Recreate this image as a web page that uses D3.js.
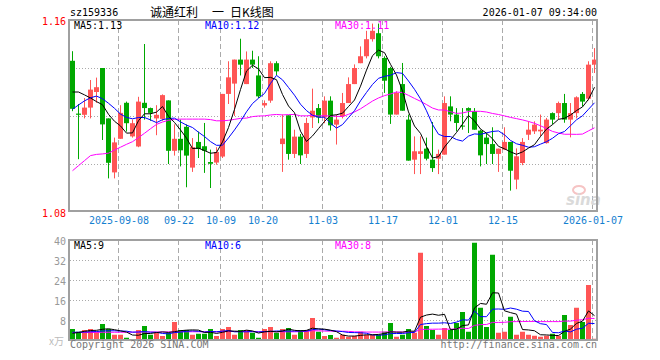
<!DOCTYPE html>
<html>
<head>
<meta charset="utf-8">
<script src="https://cdn.jsdelivr.net/npm/d3@7"></script>
<style>
  body { margin: 0; background: #fff; }
  svg { display: block; }
  text { font-family: "DejaVu Sans Mono", monospace; font-size: 10px; }
</style>
</head>
<body>
<svg id="chart" width="660" height="360"></svg>
<script>
// daily bars, 2025-08-27 .. 2026-01-07 (88 trading days)
const opens = [1.143,1.121,1.1205,1.1235,1.130,1.140,1.119,1.0965,1.1105,1.1255,
  1.1115,1.1073,1.1255,1.1233,1.119,1.1188,1.1265,1.1055,1.1105,1.1155,
  1.0985,1.1092,1.1074,1.1008,1.1006,1.1031,1.1292,1.1335,1.1435,1.1333,
  1.1435,1.1369,1.1244,1.1264,1.142,1.1083,1.1203,1.1042,1.1114,1.1042,
  1.1194,1.1233,1.1194,1.1264,1.1164,1.1199,1.1254,1.1333,1.142,1.1449,
  1.152,1.1545,1.1442,1.140,1.1206,1.1333,1.1185,1.1018,1.1042,1.1064,
  1.1018,1.1022,1.1039,1.124,1.1206,1.116,1.1233,1.122,1.1139,1.111,
  1.1083,1.1042,1.106,1.1092,1.0935,1.1004,1.1122,1.1136,1.1136,1.1087,
  1.1212,1.1212,1.1254,1.1185,1.1212,1.1292,1.1272,1.1414];
const highs = [1.147,1.125,1.1275,1.135,1.136,1.140,1.119,1.111,1.1245,1.126,
  1.1185,1.128,1.150,1.1235,1.1245,1.129,1.1265,1.1165,1.1185,1.1165,
  1.1108,1.1135,1.1171,1.106,1.107,1.1292,1.1428,1.1435,1.1522,1.1469,
  1.1472,1.1449,1.1265,1.1428,1.1428,1.1206,1.1203,1.1143,1.1125,1.1192,
  1.1314,1.125,1.1282,1.1282,1.1206,1.1296,1.1361,1.1415,1.149,1.1555,
  1.1585,1.1585,1.1449,1.1405,1.1303,1.1421,1.1206,1.1115,1.1115,1.111,
  1.1175,1.106,1.1282,1.1282,1.1233,1.1233,1.1236,1.1233,1.1143,1.1128,
  1.1153,1.1064,1.1153,1.1092,1.1065,1.1108,1.1178,1.1178,1.1206,1.1192,
  1.1215,1.126,1.1292,1.1254,1.1282,1.130,1.1428,1.1483];
const lows = [1.122,1.102,1.119,1.119,1.1255,1.110,1.094,1.094,1.1105,1.1135,
  1.111,1.107,1.1185,1.118,1.112,1.118,1.100,1.1035,1.099,1.0903,
  1.0967,1.1025,1.0963,1.090,1.0997,1.1025,1.125,1.12,1.1369,1.1333,
  1.140,1.1275,1.1235,1.1255,1.137,1.0967,1.1018,1.1025,1.100,1.1025,
  1.115,1.117,1.117,1.1139,1.1081,1.119,1.1254,1.1333,1.142,1.144,
  1.151,1.144,1.1296,1.1167,1.1206,1.1222,1.1014,1.0958,1.0958,1.1015,
  1.0967,1.0958,1.1039,1.1178,1.1136,1.1143,1.1129,1.1143,1.099,1.1,
  1.1,1.0967,1.1058,1.0889,1.0895,1.0995,1.110,1.1125,1.1115,1.1085,
  1.1165,1.1185,1.1172,1.1111,1.119,1.124,1.1265,1.1379];
const closes = [1.123,1.1205,1.1235,1.131,1.132,1.1165,1.1005,1.109,1.1213,1.117,
  1.117,1.126,1.1233,1.1213,1.1205,1.1287,1.1055,1.1105,1.1057,1.1035,
  1.107,1.1063,1.1055,1.1001,1.105,1.1292,1.1361,1.1435,1.1414,1.1435,
  1.1414,1.1282,1.1254,1.142,1.1386,1.1106,1.1042,1.1114,1.1036,1.1171,
  1.1222,1.1194,1.1264,1.1161,1.1185,1.1254,1.1333,1.140,1.1449,1.152,
  1.1555,1.1449,1.1347,1.1206,1.1296,1.1222,1.1014,1.1053,1.1053,1.1022,
  1.0983,1.1042,1.1254,1.1206,1.1171,1.1157,1.1222,1.1143,1.1036,1.1083,
  1.1042,1.1064,1.1092,1.0972,1.1032,1.1092,1.1143,1.1164,1.1143,1.1185,
  1.1185,1.1254,1.1185,1.1212,1.1278,1.126,1.1414,1.1435];
// volume, 万手
const volumes = [4.4,3.3,4.0,4.4,3.3,6.4,4.4,2.1,2.1,0.9,
  0.4,4.0,5.6,2.1,2.9,1.6,2.9,7.2,4.0,4.0,
  2.1,2.5,2.5,4.4,1.6,4.4,5.2,2.1,4.0,4.0,
  2.9,0.9,4.4,5.2,2.9,4.4,4.8,2.1,4.0,4.0,
  8.8,3.3,1.6,2.0,0.9,2.1,1.3,1.6,3.3,2.1,
  2.1,2.1,3.3,6.8,1.3,2.1,4.4,2.9,34.9,5.6,
  4.0,2.1,4.8,4.0,6.8,11.2,3.3,38.9,12.9,5.2,
  34.1,2.9,3.3,9.3,2.1,3.3,2.1,1.7,1.3,1.7,
  2.5,1.7,10.0,6.0,12.9,7.2,22.0,0.5];

// moving average values before a full window is visible
const ma5Head = [1.130,1.130,1.1288,1.1275];
const ma10Head = [1.1228,1.1246,1.1263,1.1276,1.1283,1.1272,1.1253,1.1232,1.1208];
const ma30Head = [1.0972,1.0993,1.1014,1.1035,1.104,1.1042,1.1045,1.1058,1.107,1.1082,
  1.1093,1.111,1.1128,1.1147,1.1165,1.1175,1.1182,1.1186,1.1187,1.1187,
  1.1187,1.1187,1.1187,1.1185,1.118,1.118,1.1182,1.1186,1.119];
const vma5Head = [2.7,3.0,3.5,3.8];
const vma10Head = [3.1,3.1,3.2,3.3,3.4,3.6,3.7,3.7,3.6];
const vma30Head = [3.0,3.0,3.0,3.0,3.05,3.1,3.1,3.1,3.1,3.1,
  3.15,3.2,3.2,3.2,3.2,3.2,3.25,3.3,3.3,3.3,
  3.3,3.3,3.3,3.3,3.3,3.35,3.4,3.4,3.4];

const tickIdx = [8,18,25,32,42,52,62,72,87];
const tickLabels = ["2025-09-08","09-22","10-09","10-20","11-03","11-17","12-01","12-15","2026-01-07"];
const priceLabels = [1.08,1.16];
const priceGrid = [1.10,1.12,1.14];
const volLabels = [8,16,24,32,40];

let colorUp = "#ff5555",
    colorDown = "#00a800",
    colorGrid = "#aaaaaa",
    colorFrame = "#a0a0a0",
    colorDate = "#1580d0";

let svg = d3.select("#chart");

let n = closes.length;
let x = d3.scaleLinear().domain([0, n]).range([70, 70 + 6 * n]),
    y = d3.scaleLinear().domain([1.08, 1.16]).range([212, 20]),
    yv = d3.scaleLinear().domain([0, 40]).range([340, 240]);

function movingAvg(vals, k, head) {
  return vals.map(function(v, i) {
    if (i < k - 1) return head[i];
    return d3.mean(vals.slice(i - k + 1, i + 1));
  });
}
function trunc(v, d) { let p = Math.pow(10, d); return (Math.floor(v * p + 1e-9) / p).toFixed(d); }

let ma5 = movingAvg(closes, 5, ma5Head),
    ma10 = movingAvg(closes, 10, ma10Head),
    ma30 = movingAvg(closes, 30, ma30Head),
    vma5 = movingAvg(volumes, 5, vma5Head),
    vma10 = movingAvg(volumes, 10, vma10Head),
    vma30 = movingAvg(volumes, 30, vma30Head);

let idx = d3.range(n);
let isUp = function(i) { return closes[i] >= opens[i]; };

//header
svg.append("text").attr("x", 70).attr("y", 16).text("sz159336");
let title = svg.append("text").attr("y", 17)
  .style("font-family", '"Noto Sans CJK SC", sans-serif').style("font-size", "12px");
title.append("tspan").attr("x", 150).text("诚通红利");
title.append("tspan").attr("x", 212).text("一");
title.append("tspan").attr("x", 230).text("日K线图");
svg.append("text").attr("x", 597).attr("y", 16).attr("text-anchor", "end").text("2026-01-07 09:34:00");

//grid lines
let grid = svg.append("g");
grid.selectAll(".hp").data(priceGrid).enter().append("line")
  .attr("x1", 70).attr("x2", 597)
  .attr("y1", function(d) { return Math.round(y(d)) + 0.5; })
  .attr("y2", function(d) { return Math.round(y(d)) + 0.5; })
  .attr("stroke", colorGrid).attr("stroke-dasharray", "1,2");
grid.selectAll(".hv").data(volLabels.slice(0, 4)).enter().append("line")
  .attr("x1", 70).attr("x2", 597)
  .attr("y1", function(d) { return Math.round(yv(d)) + 0.5; })
  .attr("y2", function(d) { return Math.round(yv(d)) + 0.5; })
  .attr("stroke", colorGrid).attr("stroke-dasharray", "1,2");
[[20, 211], [240, 340]].forEach(function(r) {
  grid.selectAll(null).data(tickIdx).enter().append("line")
    .attr("x1", function(d) { return x(d) + 0.5; })
    .attr("x2", function(d) { return x(d) + 0.5; })
    .attr("y1", r[0]).attr("y2", r[1])
    .attr("stroke", colorGrid).attr("stroke-dasharray", "5,3");
});

//watermark
let wm = svg.append("g");
wm.append("ellipse").attr("cx", 579).attr("cy", 190).attr("rx", 6).attr("ry", 4)
  .attr("fill", "none").attr("stroke", "#f6c4c4").attr("stroke-width", 2);
wm.append("text").attr("x", 566).attr("y", 205)
  .style("font-family", "DejaVu Sans, sans-serif").style("font-size", "15px")
  .style("font-style", "italic").style("font-weight", "bold")
  .attr("fill", "#dadada").text("sina");

//candles
let candles = svg.append("g");
candles.selectAll(".wick").data(idx).enter().append("line")
  .attr("x1", function(i) { return x(i) + 2.5; })
  .attr("x2", function(i) { return x(i) + 2.5; })
  .attr("y1", function(i) { return y(highs[i]); })
  .attr("y2", function(i) { return y(lows[i]); })
  .attr("stroke", function(i) { return isUp(i) ? colorUp : colorDown; });
candles.selectAll(".body").data(idx).enter().append("rect")
  .attr("x", function(i) { return x(i); })
  .attr("width", 5)
  .attr("y", function(i) { return y(Math.max(opens[i], closes[i])); })
  .attr("height", function(i) { return Math.max(1, Math.abs(y(opens[i]) - y(closes[i]))); })
  .attr("fill", function(i) { return isUp(i) ? colorUp : colorDown; });

//volume bars
svg.append("g").selectAll("rect").data(idx).enter().append("rect")
  .attr("x", function(i) { return x(i); })
  .attr("width", 5)
  .attr("y", function(i) { return yv(volumes[i]); })
  .attr("height", function(i) { return yv(0) - yv(volumes[i]); })
  .attr("fill", function(i) { return isUp(i) ? colorUp : colorDown; });

//moving average lines
function drawLine(vals, scale, color) {
  svg.append("path").datum(vals)
    .attr("fill", "none").attr("stroke", color).attr("stroke-width", 1)
    .attr("d", d3.line().x(function(d, i) { return x(i) + 2.5; }).y(function(d) { return scale(d); }));
}
drawLine(ma30, y, "#ff00ff");
drawLine(ma10, y, "#0000ff");
drawLine(ma5, y, "#000000");
drawLine(vma30, yv, "#ff00ff");
drawLine(vma10, yv, "#0000ff");
drawLine(vma5, yv, "#000000");

//frames
svg.append("rect").attr("x", 69).attr("y", 20).attr("width", 528).attr("height", 191)
  .attr("fill", "none").attr("stroke", colorFrame).attr("stroke-width", 2);
svg.append("rect").attr("x", 69).attr("y", 240).attr("width", 528).attr("height", 100)
  .attr("fill", "none").attr("stroke", colorFrame).attr("stroke-width", 2);

//axes
let yAxis = svg.append("g").attr("transform", "translate(66,1)")
  .call(d3.axisLeft(y).tickValues(priceLabels).tickFormat(d3.format(".2f")).tickSize(0).tickPadding(0));
yAxis.select(".domain").remove();
yAxis.selectAll("text").attr("fill", "#ff0000").style("font-family", '"DejaVu Sans Mono", monospace').style("font-size", "10px");

let vAxis = svg.append("g").attr("transform", "translate(66,1)")
  .call(d3.axisLeft(yv).tickValues(volLabels).tickSize(0).tickPadding(0));
vAxis.select(".domain").remove();
vAxis.selectAll("text").attr("fill", "#999999").style("font-family", '"DejaVu Sans Mono", monospace').style("font-size", "10px");

let xAxis = svg.append("g").attr("transform", "translate(0.5,217)")
  .call(d3.axisBottom(x).tickValues(tickIdx).tickFormat(function(d, k) { return tickLabels[k]; }).tickSize(0).tickPadding(0));
xAxis.select(".domain").remove();
xAxis.selectAll("text").attr("fill", colorDate).style("font-family", '"DejaVu Sans Mono", monospace').style("font-size", "10px");

//legends
let last = n - 1;
let legends = [
  [74, 29, "#000000", "MA5:" + trunc(ma5[last], 2)],
  [205, 29, "#0000ff", "MA10:" + trunc(ma10[last], 2)],
  [335, 29, "#ff00ff", "MA30:" + trunc(ma30[last], 2)],
  [74, 249, "#000000", "MA5:" + trunc(vma5[last], 0)],
  [205, 249, "#0000ff", "MA10:" + trunc(vma10[last], 0)],
  [335, 249, "#ff00ff", "MA30:" + trunc(vma30[last], 0)]
];
svg.append("g").selectAll("text").data(legends).enter().append("text")
  .attr("x", function(d) { return d[0]; })
  .attr("y", function(d) { return d[1]; })
  .attr("fill", function(d) { return d[2]; })
  .text(function(d) { return d[3]; });

//footer
svg.append("text").attr("x", 49).attr("y", 345).attr("fill", "#bbbbbb")
  .style("font-family", '"Noto Sans CJK SC", sans-serif').style("font-size", "10px").text("x万");
svg.append("text").attr("x", 70).attr("y", 348).attr("fill", "#777777").text("Copyright 2026 SINA.COM");
svg.append("text").attr("x", 597).attr("y", 348).attr("text-anchor", "end").attr("fill", "#777777").text("http://finance.sina.com.cn");
</script>
</body>
</html>
